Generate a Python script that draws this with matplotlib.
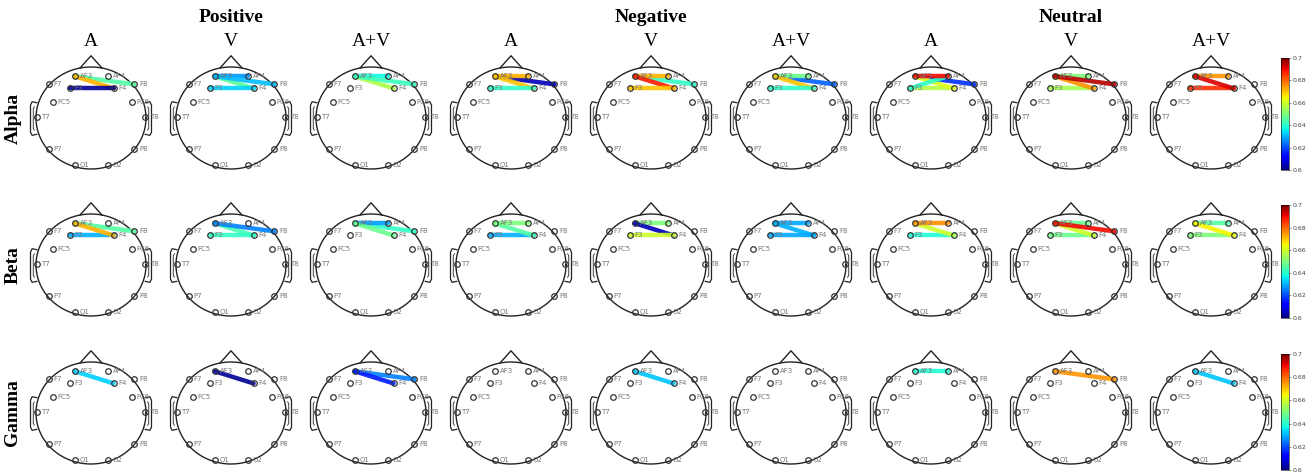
import numpy as np
import matplotlib
matplotlib.use("Agg")
import matplotlib.pyplot as plt
from matplotlib import cm, colors

W, H = 1314, 473
fig = plt.figure(figsize=(W / 100, H / 100), dpi=100)

# ---------------- data ----------------
emotions = ["Positive", "Negative", "Neutral"]
modalities = ["A", "V", "A+V"]
bands = ["Alpha", "Beta", "Gamma"]
electrodes = ["AF3", "AF4", "F7", "F3", "F4", "F8", "FC5", "FC6",
              "T7", "T8", "P7", "P8", "O1", "O2"]
cbar_ticks = [0.6, 0.62, 0.64, 0.66, 0.68, 0.7]

# connections: (electrode, electrode, value) per panel, order = Pos A,V,A+V, Neg A,V,A+V, Neu A,V,A+V
alpha_edges = [
    [("AF3", "F8", 0.645), ("AF3", "F4", 0.672), ("F3", "F4", 0.602)],
    [("AF3", "F4", 0.646), ("AF3", "AF4", 0.627), ("AF3", "F8", 0.631), ("F3", "F4", 0.633)],
    [("AF3", "F4", 0.656), ("AF3", "AF4", 0.637), ("AF3", "F8", 0.642)],
    [("AF3", "F8", 0.605), ("AF3", "AF4", 0.672), ("AF3", "F4", 0.670), ("F3", "F4", 0.641)],
    [("AF3", "F8", 0.641), ("AF3", "AF4", 0.672), ("AF3", "F4", 0.688), ("F3", "F4", 0.670)],
    [("AF3", "F8", 0.622), ("AF3", "AF4", 0.648), ("AF3", "F4", 0.670), ("F3", "F4", 0.641)],
    [("AF3", "F8", 0.617), ("F3", "F4", 0.657), ("AF3", "F4", 0.662), ("AF4", "F3", 0.641), ("AF3", "AF4", 0.690)],
    [("AF3", "AF4", 0.650), ("F3", "F4", 0.655), ("AF3", "F4", 0.675), ("AF3", "F8", 0.695)],
    [("AF3", "AF4", 0.675), ("F3", "F4", 0.686), ("AF3", "F4", 0.692)],
]
beta_edges = [
    [("AF3", "F8", 0.645), ("F3", "F4", 0.630), ("AF3", "F4", 0.672)],
    [("AF3", "F4", 0.643), ("F3", "F4", 0.641), ("AF3", "F8", 0.625)],
    [("AF3", "F8", 0.641), ("AF3", "AF4", 0.628), ("AF3", "F4", 0.648)],
    [("F3", "F4", 0.630), ("AF3", "F4", 0.645), ("AF3", "AF4", 0.650)],
    [("AF3", "AF4", 0.650), ("AF3", "F4", 0.605), ("F3", "F4", 0.660)],
    [("AF3", "AF4", 0.629), ("AF3", "F4", 0.630), ("F3", "F4", 0.629)],
    [("F3", "F4", 0.639), ("AF3", "F4", 0.660), ("AF3", "AF4", 0.676)],
    [("AF3", "AF4", 0.648), ("F3", "F4", 0.648), ("AF3", "F4", 0.660), ("AF3", "F8", 0.690)],
    [("AF3", "AF4", 0.645), ("F3", "F4", 0.650), ("AF3", "F4", 0.665)],
]
gamma_edges = [
    [("AF3", "F4", 0.633)],
    [("AF3", "F4", 0.602)],
    [("AF3", "F8", 0.625), ("AF3", "F4", 0.615)],
    [],
    [("AF3", "F4", 0.632)],
    [],
    [("AF3", "AF4", 0.639)],
    [("AF3", "F8", 0.675)],
    [("AF3", "F4", 0.632)],
]
band_edges = [alpha_edges, beta_edges, gamma_edges]

# ---------------- layout ----------------
pos = {
    "AF3": (-0.30, 0.82), "AF4": (0.31, 0.82),
    "F7": (-0.77, 0.66), "F3": (-0.39, 0.58),
    "F4": (0.41, 0.58), "F8": (0.79, 0.66),
    "FC5": (-0.70, 0.32), "FC6": (0.74, 0.32),
    "T7": (-0.99, 0.02), "T8": (0.99, 0.02),
    "P7": (-0.77, -0.60), "P8": (0.79, -0.60),
    "O1": (-0.30, -0.92), "O2": (0.31, -0.92),
}
col_cx = [91, 231, 371, 511, 651, 791, 931, 1071, 1211]
row_cy = [118, 265, 413]
ax_w, ax_h = 140, 148
rx, ry = 55, 51
cbar_y = [(58, 170), (205, 318), (354, 470)]

cmap = plt.get_cmap("jet")
norm = colors.Normalize(vmin=0.6, vmax=0.7)
serif = ["Liberation Serif", "DejaVu Serif"]


def px_axes(x0, y0, w, h):
    return fig.add_axes([x0 / W, 1 - (y0 + h) / H, w / W, h / H])


def draw_head(ax, edges):
    xl = ax_w / 2 / rx
    yl = ax_h / 2 / ry
    ax.set_xlim(-xl, xl)
    ax.set_ylim(-yl, yl)
    ax.axis("off")
    t = np.linspace(0, 2 * np.pi, 300)
    lc = "#222222"
    ax.plot(np.cos(t), np.sin(t), color=lc, lw=1.0, zorder=2)
    # nose
    ax.plot([-0.20, 0.0, 0.20], [0.98, 1.22, 0.98], color=lc, lw=1.0, zorder=2)
    # ears
    for s in (-1, 1):
        ex = [s * 0.985, s * 1.07, s * 1.10, s * 1.10, s * 1.07, s * 0.985]
        ey = [0.30, 0.32, 0.25, -0.28, -0.34, -0.32]
        ax.plot(ex, ey, color=lc, lw=0.9, zorder=2)
        ax.plot([s * 1.03, s * 1.05, s * 1.05, s * 1.03], [0.22, 0.18, -0.20, -0.24],
                color=lc, lw=0.6, zorder=2)
    # connections
    for a, b, v in edges:
        (x1, y1), (x2, y2) = pos[a], pos[b]
        ax.plot([x1, x2], [y1, y2], color=cmap(norm(v)), lw=3.2, alpha=0.9,
                solid_capstyle="round", zorder=3)
    # electrodes
    for name in electrodes:
        x, y = pos[name]
        ax.plot(x, y, marker="o", ms=4.0, mfc="none", mec="#333333", mew=0.9,
                zorder=4, ls="none")
        ax.text(x + 0.09, y, name, fontsize=5.0, color="#777777",
                va="center", ha="left", zorder=5, family="DejaVu Sans")


for r, edges_list in enumerate(band_edges):
    for c in range(9):
        ax = px_axes(col_cx[c] - ax_w / 2, row_cy[r] - ax_h / 2, ax_w, ax_h)
        draw_head(ax, edges_list[c])
    # colorbar
    y0, y1 = cbar_y[r]
    cax = px_axes(1281, y0, 8, y1 - y0)
    cb = fig.colorbar(cm.ScalarMappable(norm=norm, cmap=cmap), cax=cax, ticks=cbar_ticks)
    cb.ax.set_yticklabels([f"{v:g}" for v in cbar_ticks])
    cb.ax.tick_params(labelsize=4.5, length=1.5, width=0.4, pad=1, colors="#444444")
    cb.outline.set_linewidth(0.4)
    # row label
    fig.text(13 / W, 1 - row_cy[r] / H, bands[r], rotation=90, ha="center", va="center",
             fontsize=14, fontweight="bold", family=serif)

for e, emo in enumerate(emotions):
    fig.text(col_cx[e * 3 + 1] / W, 1 - 17 / H, emo, ha="center", va="center",
             fontsize=14, fontweight="bold", family=serif)
    for m, mod in enumerate(modalities):
        fig.text(col_cx[e * 3 + m] / W, 1 - 42 / H, mod, ha="center", va="center",
                 fontsize=14, family=serif)

fig.savefig("out.png", dpi=100, facecolor="white")
